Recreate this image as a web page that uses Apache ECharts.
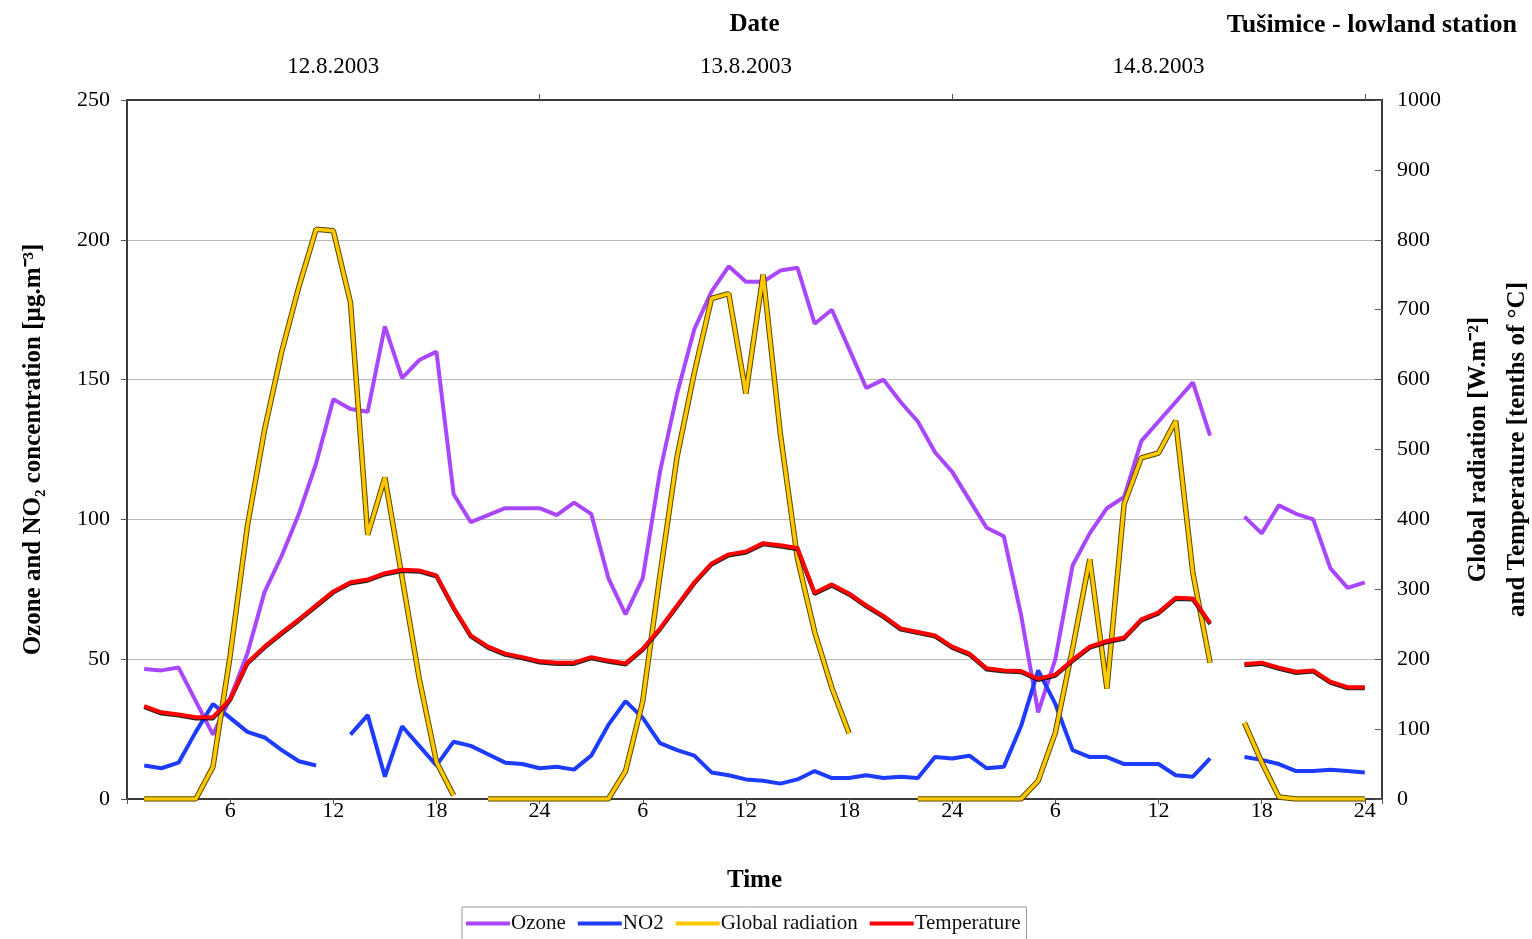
<!DOCTYPE html>
<html>
<head>
<meta charset="utf-8">
<title>Tušimice - lowland station</title>
<script src="https://cdn.jsdelivr.net/npm/echarts@6/dist/echarts.min.js"></script>
<style>
  html, body { margin: 0; padding: 0; background: #fff; }
  #chart { width: 1532px; height: 939px; }
</style>
</head>
<body>
<div id="chart"></div>
<script>
// Hourly measurements, 12.8.2003 01:00 – 14.8.2003 24:00 (null = missing hour)
const hours = [
  1, 2, 3, 4, 5, 6, 7, 8, 9, 10, 11, 12, 13, 14, 15, 16, 17, 18, 19, 20, 21, 22, 23, 24,
  25, 26, 27, 28, 29, 30, 31, 32, 33, 34, 35, 36, 37, 38, 39, 40, 41, 42, 43, 44, 45, 46, 47, 48,
  49, 50, 51, 52, 53, 54, 55, 56, 57, 58, 59, 60, 61, 62, 63, 64, 65, 66, 67, 68, 69, 70, 71, 72
];

// Ozone [µg.m-3]
const ozone = [
  46.5, 46, 47, 35, 23, 36, 52, 74, 87, 102, 120, 143, 139.5, 138.5, 169, 150.5, 157, 160, 109, 99, 101.5, 104, 104, 104,
  101.5, 106, 102, 79, 66, 79, 117, 145, 168, 181.5, 190.5, 185, 185, 189, 190, 170, 175, 161, 147, 150, 142, 135, 124, 117,
  107, 97, 94, 66, 31, 50, 83.5, 95, 104, 108, 128, 135, 142, 149, 130, null, 101, 95, 105, 102, 100, 82.5, 75.5, 77.5
];

// NO2 [µg.m-3]
const no2 = [
  12, 11, 13, 24, 34, 29, 24, 22, 17.5, 13.5, 12, null, 23, 30, 8, 26, 19, 12, 20.5, 19, 16, 13, 12.5, 11,
  11.5, 10.5, 15.5, 26.5, 35, 29, 20, 17.5, 15.5, 9.5, 8.5, 7, 6.5, 5.5, 7, 10, 7.5, 7.5, 8.5, 7.5, 8, 7.5, 15, 14.5,
  15.5, 11, 11.5, 26, 46, 34, 17.5, 15, 15, 12.5, 12.5, 12.5, 8.5, 8, 14.5, null, 15, 14, 12.5, 10, 10, 10.5, 10, 9.5
];

// Global radiation [W.m-2]
const radiation = [
  0, 0, 0, 0, 46, 205, 390, 528, 640, 733, 815, 813, 710, 378, 460, 317, 172, 53, 5, null, 0, 0, 0, 0,
  0, 0, 0, 0, 40, 140, 320, 490, 610, 716, 723, 580, 750, 523, 344, 239, 159, 94, null, null, null, 0, 0, 0,
  0, 0, 0, 0, 26, 95, 215, 343, 158, 422, 488, 495, 541, 323, 195, null, 109, 53, 3, 0, 0, 0, 0, 0
];

// Temperature [tenths of °C]
const temperature = [
  133, 124, 121, 117, 117, 143, 195, 218, 238, 257, 277, 297, 310, 314, 323, 328, 327, 320, 274, 234, 218, 208, 203, 197,
  195, 195, 203, 198, 194, 215, 244, 277, 310, 337, 350, 354, 366, 363, 359, 295, 307, 294, 277, 262, 244, 239, 234, 218,
  208, 187, 184, 183, 172, 178, 199, 218, 226, 231, 257, 267, 288, 287, 252, null, 193, 195, 188, 182, 184, 168, 160, 160
];

// Date labels placed at the middle of each day (hour of the 72-hour span)
const dateLabels = ['12.8.2003', '13.8.2003', '14.8.2003'];
const dateHours = [12, 36, 60];
const dayBoundaries = [24, 48, 72];

const seriesNames = ['Ozone', 'NO2', 'Global radiation', 'Temperature'];

const SERIF = "'Liberation Serif', 'Times New Roman', serif";

function pairs(values) {
  return hours.map((h, i) => [h, values[i] === null ? '-' : values[i]]);
}

function hourLabel(v) {
  if (v <= 0 || v > 72 || v % 6 !== 0) return '';
  const r = v % 24;
  return String(r === 0 ? 24 : r);
}

// every axis stays on its own side of the plot (no snapping to the other axis' zero)
const axisLine = { show: true, onZero: false, lineStyle: { color: '#3a3a3a', width: 2 } };
const titleFont = { fontFamily: SERIF, fontSize: 25, fontWeight: 'bold', color: '#000' };

const chart = echarts.init(document.getElementById('chart'), null, { renderer: 'canvas' });

chart.setOption({
  animation: false,
  backgroundColor: '#ffffff',
  textStyle: { fontFamily: SERIF, color: '#000' },
  title: {
    text: 'Tušimice - lowland station',
    right: 10,
    top: 7,
    textStyle: Object.assign({}, titleFont, { fontSize: 26 })
  },
  grid: { left: 127, right: 150, top: 100, bottom: 140, containLabel: false, outerBoundsMode: 'none' },
  legend: {
    data: seriesNames,
    left: 462,
    top: 907,
    orient: 'horizontal',
    icon: 'rect',
    itemWidth: 44,
    itemHeight: 4,
    itemGap: 12,
    padding: [6, 6, 6, 4],
    borderColor: '#9a9a9a',
    borderWidth: 1,
    textStyle: { fontFamily: SERIF, fontSize: 21, color: '#111', padding: [0, 0, 0, -4] }
  },
  xAxis: [
    {
      type: 'value',
      position: 'bottom',
      min: 0,
      max: 73,
      interval: 6,
      name: 'Time',
      nameLocation: 'middle',
      nameGap: 69,
      nameTextStyle: titleFont,
      axisLine: axisLine,
      axisTick: { show: true, inside: false, length: 5, lineStyle: { color: '#555' } },
      axisLabel: { margin: 1, fontFamily: SERIF, fontSize: 22, color: '#000', formatter: hourLabel },
      splitLine: { show: false }
    },
    {
      type: 'value',
      position: 'top',
      min: 0,
      max: 73,
      name: 'Date',
      nameLocation: 'middle',
      nameGap: 63,
      nameTextStyle: titleFont,
      axisLine: axisLine,
      axisTick: { show: true, inside: false, length: 6, customValues: dayBoundaries, lineStyle: { color: '#555' } },
      axisLabel: {
        margin: 22,
        fontFamily: SERIF,
        fontSize: 23,
        color: '#000',
        customValues: dateHours,
        formatter: v => {
          const k = dateHours.indexOf(v);
          return k >= 0 ? dateLabels[k] : '';
        }
      },
      splitLine: { show: false }
    }
  ],
  yAxis: [
    {
      type: 'value',
      position: 'left',
      min: 0,
      max: 250,
      interval: 50,
      name: 'Ozone and NO₂ concentration [µg.m⁻³]',
      nameLocation: 'middle',
      nameRotate: 90,
      nameGap: 81,
      nameTextStyle: titleFont,
      axisLine: axisLine,
      axisTick: { show: true, inside: false, length: 6, lineStyle: { color: '#555' } },
      axisLabel: { margin: 17, fontFamily: SERIF, fontSize: 22, color: '#000' },
      splitLine: { show: true, lineStyle: { color: '#b8b8b8', width: 1 } }
    },
    {
      type: 'value',
      position: 'right',
      min: 0,
      max: 1000,
      interval: 100,
      name: 'Global radiation [W.m⁻²]\nand Temperature [tenths of °C]',
      nameLocation: 'middle',
      nameRotate: 90,
      nameGap: 77,
      nameTextStyle: Object.assign({}, titleFont, { lineHeight: 39 }),
      axisLine: axisLine,
      axisTick: { show: true, inside: true, length: 7, lineStyle: { color: '#555' } },
      axisLabel: { margin: 15, fontFamily: SERIF, fontSize: 22, color: '#000', formatter: v => String(v) },
      splitLine: { show: false }
    }
  ],
  series: [
    {
      name: 'Ozone',
      type: 'line',
      xAxisIndex: 0,
      yAxisIndex: 0,
      data: pairs(ozone),
      showSymbol: false,
      symbol: 'none',
      connectNulls: false,
      color: '#a947ff',
      lineStyle: { color: '#a947ff', width: 4 }
    },
    {
      name: 'NO2',
      type: 'line',
      xAxisIndex: 0,
      yAxisIndex: 0,
      data: pairs(no2),
      showSymbol: false,
      symbol: 'none',
      connectNulls: false,
      color: '#1e3cff',
      lineStyle: { color: '#1e3cff', width: 4 }
    },
    {
      // dark rim drawn under the radiation line
      name: 'Global radiation rim',
      type: 'line',
      xAxisIndex: 0,
      yAxisIndex: 1,
      data: pairs(radiation),
      showSymbol: false,
      symbol: 'none',
      connectNulls: false,
      silent: true,
      color: '#5a4a00',
      lineStyle: { color: '#5a4a00', width: 5.5 }
    },
    {
      name: 'Global radiation',
      type: 'line',
      xAxisIndex: 0,
      yAxisIndex: 1,
      data: pairs(radiation),
      showSymbol: false,
      symbol: 'none',
      connectNulls: false,
      color: '#ffc800',
      lineStyle: { color: '#ffc800', width: 3.5 }
    },
    {
      name: 'Temperature',
      type: 'line',
      xAxisIndex: 0,
      yAxisIndex: 1,
      data: pairs(temperature),
      showSymbol: false,
      symbol: 'none',
      connectNulls: false,
      color: '#ff0000',
      lineStyle: {
        color: '#ff0000',
        width: 4,
        shadowColor: 'rgba(0,0,0,0.85)',
        shadowBlur: 0,
        shadowOffsetY: 1.2
      }
    }
  ]
});
</script>
</body>
</html>
